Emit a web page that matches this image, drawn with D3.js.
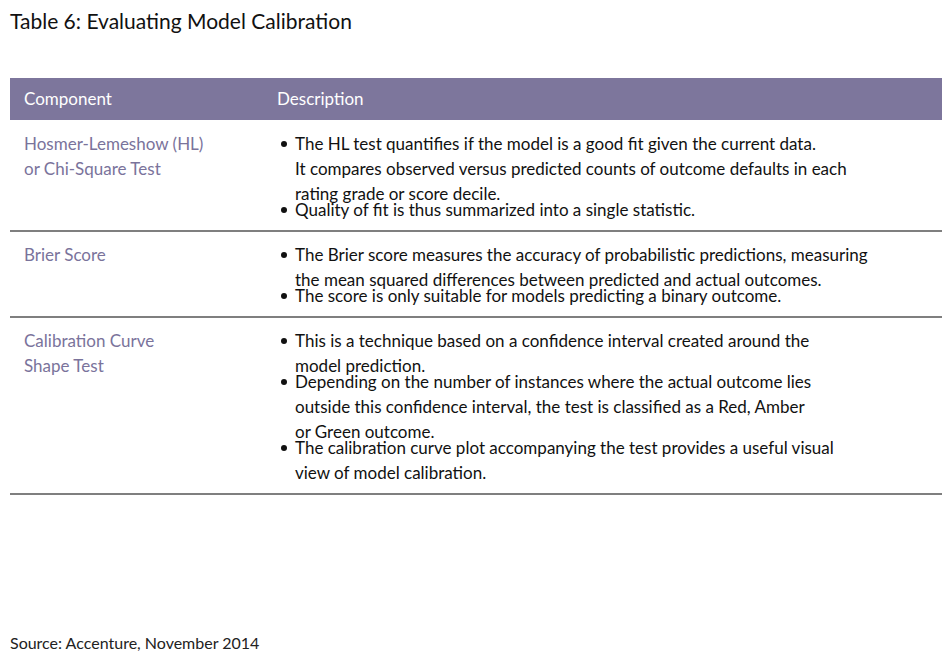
<!DOCTYPE html>
<html><head><meta charset="utf-8">
<script src="https://cdn.jsdelivr.net/npm/d3@7"></script>
<style>body{margin:0;background:#fff}</style>
</head><body>
<script>
const title = 'Table 6: Evaluating Model Calibration';
const headers = ['Component', 'Description'];
const components = [
  ['Hosmer-Lemeshow (HL)', 'or Chi-Square Test'],
  ['Brier Score'],
  ['Calibration Curve', 'Shape Test']
];
const bullets = [
  [
    ['The HL test quantifies if the model is a good fit given the current data.',
     'It compares observed versus predicted counts of outcome defaults in each',
     'rating grade or score decile.'],
    ['Quality of fit is thus summarized into a single statistic.']
  ],
  [
    ['The Brier score measures the accuracy of probabilistic predictions, measuring',
     'the mean squared differences between predicted and actual outcomes.'],
    ['The score is only suitable for models predicting a binary outcome.']
  ],
  [
    ['This is a technique based on a confidence interval created around the',
     'model prediction.'],
    ['Depending on the number of instances where the actual outcome lies',
     'outside this confidence interval, the test is classified as a Red, Amber',
     'or Green outcome.'],
    ['The calibration curve plot accompanying the test provides a useful visual',
     'view of model calibration.']
  ]
];
const source = 'Source: Accenture, November 2014';

const W = 952, H = 664, x0 = 10, x1 = 942, descX = 277;
const lineH = 25, bulletGap = 16, purple = '#7d769c';
const font = "'Liberation Sans Narrow',Lato,sans-serif";

const svg = d3.select('body').append('svg').attr('width', W).attr('height', H)
  .style('font-family', font);

svg.append('text').attr('x', 10).attr('y', 29).attr('font-size', 21)
  .attr('fill', '#111').text(title);

svg.append('rect').attr('x', x0).attr('y', 78).attr('width', x1 - x0).attr('height', 42)
  .attr('fill', purple);
svg.selectAll('.hdr').data(headers).enter().append('text')
  .attr('x', (d, i) => i ? descX : 24).attr('y', 105)
  .attr('font-size', 17).attr('fill', '#fff').text(d => d);

let rowTop = 120;
components.forEach((comp, r) => {
  const g = svg.append('g');
  g.selectAll('.c').data(comp).enter().append('text')
    .attr('x', 24).attr('y', (d, i) => rowTop + 30 + i * lineH)
    .attr('font-size', 17).attr('fill', '#7a739b').text(d => d);
  let y = rowTop + 24;
  bullets[r].forEach((b, bi) => {
    if (bi) y += bulletGap;
    g.append('circle').attr('cx', 284).attr('cy', y).attr('r', 3).attr('fill', '#111');
    b.forEach((line, li) => {
      g.append('text').attr('x', 295).attr('y', y + 6)
        .attr('font-size', 17).attr('fill', '#111').text(line);
      if (li < b.length - 1) y += lineH;
    });
  });
  const bottom = y + 21;
  svg.append('line').attr('x1', x0).attr('x2', x1).attr('y1', bottom).attr('y2', bottom)
    .attr('stroke', '#555').attr('stroke-width', 1.3);
  rowTop = bottom;
});

svg.append('text').attr('x', 10).attr('y', 649).attr('font-size', 16)
  .attr('fill', '#222').text(source);
</script>
</body></html>
